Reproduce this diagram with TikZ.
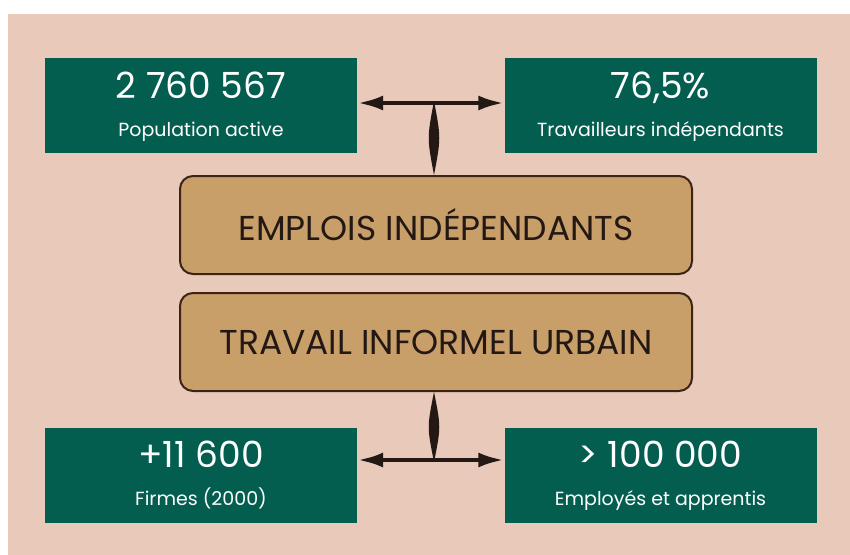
\documentclass[tikz,border=0pt]{standalone}
\usepackage{fontspec}
\setmainfont{Poppins}
\usetikzlibrary{arrows.meta,positioning,calc}
\definecolor{backdrop}{HTML}{E8C9BA}
\definecolor{stat}{HTML}{035E50}
\definecolor{sand}{HTML}{C99F69}
\definecolor{rim}{HTML}{3A2418}
\definecolor{ink}{HTML}{241814}
\tikzset{
  statbox/.style={fill=stat, minimum width=312pt, minimum height=95pt, inner sep=0pt},
  numtxt/.style={text=white, anchor=base, font=\fontsize{36}{40}\selectfont},
  labtxt/.style={text=white, anchor=base, font=\fontsize{19}{22}\selectfont},
  theme/.style={draw=rim, line width=2pt, fill=sand, rounded corners=13pt,
    minimum width=512pt, minimum height=98pt, inner sep=0pt, text=ink,
    font=\fontsize{34.5}{38}\selectfont},
  twohead/.style={draw=ink, line width=4.5pt, {Latex[length=26pt,width=15pt]}-{Latex[length=26pt,width=15pt]}},
  stem/.style={fill=ink},
}

\begin{document}
\begin{tikzpicture}[x=1pt, y=-1pt]
  \useasboundingbox (0,0) rectangle (850,554);
  \fill[white] (0,0) rectangle (850,554);
  \fill[backdrop] (8,14) rectangle (852,556);

  % figures in green boxes
  \node[statbox] (pop) at (201,105.5) {};
  \node[statbox] (indep) at (660.5,105.5) {};
  \node[statbox] (firm) at (201,475) {};
  \node[statbox] (staff) at (660.5,475) {};

  \node[numtxt] (popnum) at (201,98) {2 760 567};
  \node[labtxt] (poplab) at (201,136) {Population active};
  \node[numtxt] (indepnum) at (660.5,98) {76,5\%};
  \node[labtxt] (indeplab) at (660.5,136) {Travailleurs indépendants};
  \node[numtxt] (firmnum) at (201,467) {+11 600};
  \node[labtxt] (firmlab) at (201,505) {Firmes (2000)};
  \node[numtxt] (staffnum) at (660.5,467) {> 100 000};
  \node[labtxt] (stafflab) at (660.5,505) {Employés et apprentis};

  % middle themes
  \node[theme] (emplois) at (436,225) {EMPLOIS INDÉPENDANTS};
  \node[theme] (travail) at (436,342) {TRAVAIL INFORMEL URBAIN};

  \coordinate (topjoin) at (434,101);   % stem meets top arrow
  \coordinate (botjoin) at (434,462);   % stem meets bottom arrow

  % spindle stems
  \path[stem] (topjoin) .. controls ($(topjoin)!0.5!(emplois.north -| topjoin)+(7,0)$) .. (emplois.north -| topjoin)
    .. controls ($(topjoin)!0.5!(emplois.north -| topjoin)+(-7,0)$) .. cycle;
  \path[stem] (botjoin) .. controls ($(botjoin)!0.5!(travail.south -| botjoin)+(7,0)$) .. (travail.south -| botjoin)
    .. controls ($(botjoin)!0.5!(travail.south -| botjoin)+(-7,0)$) .. cycle;
  \draw[twohead] (pop.east |- 0,103) -- (indep.west |- 0,103);
  \draw[twohead] (firm.east |- 0,460) -- (staff.west |- 0,460);
\end{tikzpicture}
\end{document}
